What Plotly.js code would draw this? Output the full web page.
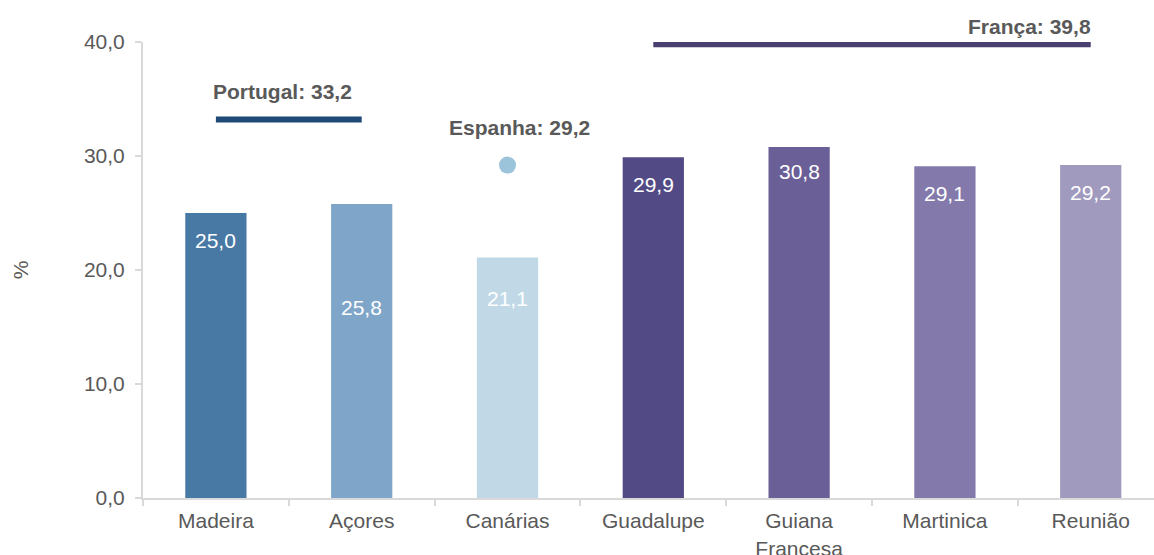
<!DOCTYPE html>
<html>
<head>
<meta charset="utf-8">
<script src="https://cdn.plot.ly/plotly-3.0.1.min.js"></script>
<style>
  html, body { margin: 0; padding: 0; background: #fff; }
  #chart { width: 1154px; height: 555px; }
</style>
</head>
<body>
<div id="chart"></div>
<script>
// regiões ultraperiféricas
const regions = ["Madeira", "Açores", "Canárias", "Guadalupe", "Guiana<br>Francesa", "Martinica", "Reunião"];
const values = [25.0, 25.8, 21.1, 29.9, 30.8, 29.1, 29.2];

// médias nacionais
const portugal = 33.2;
const espanha = 29.2;
const franca = 39.8;

const barColors = ["#4878a4", "#7fa6c8", "#c1d9e7", "#514a85", "#6a5f96", "#837aab", "#a19abf"];
// deslocamento vertical (px) das etiquetas dentro das barras
const labelShift = [-27, -104, -41, -27, -25, -27, -27];

const gray = "#595959";
const font = "Liberation Sans, Arial, sans-serif";
const fs = 21;

function fmt(v) {
    return v.toFixed(1).replace(".", ",");
}

const bars = {
    x: regions,
    y: values,
    type: "bar",
    width: 0.42,
    marker: { color: barColors },
    hoverinfo: "skip",
    showlegend: false
};

const ptLine = {
    x: [regions[0], regions[1]],
    y: [portugal, portugal],
    mode: "lines",
    line: { color: "#1f4a78", width: 6 },
    cliponaxis: false,
    hoverinfo: "skip",
    showlegend: false
};

const esDot = {
    x: [regions[2]],
    y: [espanha],
    mode: "markers",
    marker: { color: "#9bc3da", size: 17 },
    cliponaxis: false,
    hoverinfo: "skip",
    showlegend: false
};

const frLine = {
    x: [regions[3], regions[6]],
    y: [franca, franca],
    mode: "lines",
    line: { color: "#4b3f72", width: 6 },
    cliponaxis: false,
    hoverinfo: "skip",
    showlegend: false
};

const annotations = values.map((v, i) => ({
    x: regions[i],
    y: v,
    yshift: labelShift[i],
    text: fmt(v),
    showarrow: false,
    font: { family: font, size: fs, color: "#ffffff" }
}));

annotations.push({
    x: regions[0], y: portugal, xanchor: "left", xshift: -5, yshift: 28,
    text: "<b>Portugal: " + fmt(portugal) + "</b>",
    showarrow: false, font: { family: font, size: fs, color: gray }
});
annotations.push({
    x: regions[2], y: espanha, xshift: 12, yshift: 38,
    text: "<b>Espanha: " + fmt(espanha) + "</b>",
    showarrow: false, font: { family: font, size: fs, color: gray }
});
annotations.push({
    x: regions[6], y: franca, xanchor: "right", xshift: 2, yshift: 18,
    text: "<b>França: " + fmt(franca) + "</b>",
    showarrow: false, font: { family: font, size: fs, color: gray }
});

const layout = {
    width: 1154,
    height: 555,
    margin: { l: 143, r: 0, t: 42, b: 57 },
    paper_bgcolor: "#ffffff",
    plot_bgcolor: "#ffffff",
    separators: ",.",
    font: { family: font, size: fs, color: gray },
    xaxis: {
        range: [-0.5, 6.434],
        showline: true,
        linecolor: "#d9d9d9",
        linewidth: 2,
        ticks: "outside",
        tickson: "boundaries",
        ticklen: 6,
        tickcolor: "#d9d9d9",
        tickwidth: 2,
        showgrid: false,
        zeroline: false,
        ticklabelstandoff: 3,
        tickfont: { family: font, size: fs, color: gray }
    },
    yaxis: {
        range: [0, 40],
        dtick: 10,
        tickformat: ".1f",
        showline: true,
        linecolor: "#d9d9d9",
        linewidth: 2,
        ticks: "outside",
        ticklen: 6,
        tickcolor: "#d9d9d9",
        tickwidth: 2,
        showgrid: false,
        zeroline: false,
        ticklabelstandoff: 6,
        tickfont: { family: font, size: fs, color: gray },
        title: { text: "%", standoff: 50, font: { family: font, size: fs, color: gray } }
    },
    annotations: annotations,
    hovermode: false
};

Plotly.newPlot("chart", [bars, ptLine, esDot, frLine], layout, { displayModeBar: false, staticPlot: true });
</script>
</body>
</html>
